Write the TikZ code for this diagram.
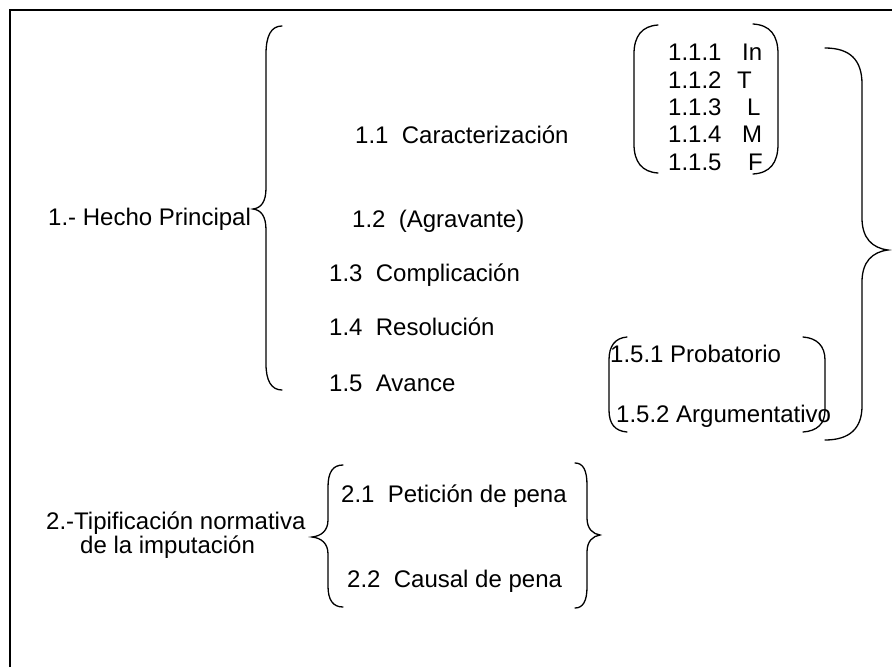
\documentclass[tikz,border=0pt]{standalone}
\usepackage{fontspec}
\setmainfont{Liberation Sans}
\begin{document}
\begin{tikzpicture}[x=1pt,y=-1pt,
  lbl/.style={anchor=base west,inner sep=0pt,font=\fontsize{24}{28}\selectfont},
  brc/.style={line width=1.3pt,line cap=round},
  frm/.style={line width=2pt}]
\useasboundingbox (0,0) rectangle (892,667);
% frame
\draw[frm] (10,667) -- (10,9.7) -- (892,9.7);
% left texts
\node[lbl] (h1) at (48,225) {1.- Hecho Principal};
\node[lbl] (h2a) at (46,529.5) {2.-Tipificación normativa};
\node[lbl] (h2b) at (80,553) {de la imputación};
% level 1 items
\node[lbl] (n11) at (355,143) {1.1~~Caracterización};
\node[lbl] (n12) at (352,227) {1.2~~(Agravante)};
\node[lbl] (n13) at (329,281) {1.3~~Complicación};
\node[lbl] (n14) at (329,335) {1.4~~Resolución};
\node[lbl] (n15) at (329,391) {1.5~~Avance};
% 1.1.x
\node[lbl] (n111) at (668,60) {1.1.1};
\node[lbl] (n112) at (668,88) {1.1.2};
\node[lbl] (n113) at (668,115) {1.1.3};
\node[lbl] (n114) at (668,142) {1.1.4};
\node[lbl] (n115) at (668,170) {1.1.5};
\node[lbl] (l111) at (742,60) {In};
\node[lbl] (l112) at (737,88) {T};
\node[lbl] (l113) at (747,115) {L};
\node[lbl] (l114) at (742,142) {M};
\node[lbl] (l115) at (748,170) {F};
% 1.5.x
\node[lbl] (n151) at (610,362) {1.5.1 Probatorio};
\node[lbl] (n152) at (616,422) {1.5.2 Argumentativo};
% 2.x
\node[lbl] (n21) at (341,502) {2.1~~Petición de pena};
\node[lbl] (n22) at (347,587) {2.2~~Causal de pena};
% big left brace for 1
\draw[brc] (282,26) .. controls (271,26) and (266,36) .. (266,54) -- (266,188)
  .. controls (266,202) and (261,208) .. (253,209) .. controls (261,210) and (266,216) .. (266,230)
  -- (266,364) .. controls (266,380) and (271,390) .. (282,390);
% parentheses for 1.1.x
\draw[brc] (658,25) .. controls (642,26) and (634,36) .. (634,54) -- (634,144) .. controls (634,162) and (642,172) .. (658,173);
\draw[brc] (753,24) .. controls (770,25) and (778,35) .. (778,54) -- (778,144) .. controls (778,163) and (770,173) .. (753,174);
% parentheses for 1.5.x
\draw[brc] (627,337) .. controls (615,338) and (609,346) .. (609,360) -- (609,410) .. controls (609,424) and (615,431) .. (627,432);
\draw[brc] (803,337) .. controls (817,338) and (825,346) .. (825,360) -- (825,410) .. controls (825,424) and (817,431) .. (803,432);
% big right brace
\draw[brc] (825,48) .. controls (850,48) and (862,60) .. (862,84) -- (862,218)
  .. controls (862,238) and (872,248) .. (888,250) .. controls (872,252) and (862,262) .. (862,282)
  -- (862,406) .. controls (862,428) and (850,440) .. (825,440);
% braces for 2
\draw[brc] (343,465) .. controls (333,465) and (328,472) .. (328,487) -- (328,520)
  .. controls (328,531) and (321,536) .. (312,537) .. controls (321,538) and (328,543) .. (328,554)
  -- (328,586) .. controls (328,600) and (333,607) .. (343,607);
\draw[brc] (575,463) .. controls (583,463) and (587,470) .. (587,485) -- (587,518)
  .. controls (587,529) and (593,534) .. (600,535) .. controls (593,536) and (587,541) .. (587,552)
  -- (587,587) .. controls (587,601) and (583,608) .. (575,608);
\end{tikzpicture}
\end{document}
